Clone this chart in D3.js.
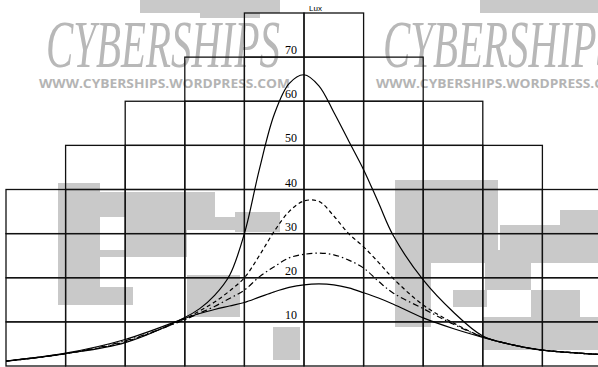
<!DOCTYPE html>
<html><head><meta charset="utf-8">
<script src="https://cdn.jsdelivr.net/npm/d3@7"></script>
<style>html,body{margin:0;padding:0;background:#fff;}svg{display:block;}</style>
</head><body>
<script>
// ---- data ----
const positions = [-5,-4,-3,-2,-1.75,-1.5,-1.25,-1,-0.75,-0.5,-0.25,0,0.25,0.5,0.75,1,1.25,1.5,2,2.5,3,3.5,4,5];
const seriesTall    = [1.1,2.8,5.3,11,13,16,20.5,30,44.5,57,64,66,63.5,57.5,51,44.5,37,29.5,19.5,12.3,6.8,4.8,3.6,2.6];
const seriesDashed  = [1.1,2.8,5.5,10.7,12.5,14.5,17,20,25,30.5,35,37.4,37.3,34,30,27,23.5,19.8,13.8,9.8,6.6,4.8,3.6,2.6];
const seriesDashDot = [1.1,2.8,5.7,10.5,12,13.5,15.3,17.2,20.2,22.5,24.5,25.3,25.6,25.2,24,22.2,19.2,16.5,13,9.5,6.6,4.8,3.6,2.6];
const seriesLow     = [1.1,2.9,6.0,10.8,11.9,12.8,13.6,14.4,15.6,16.8,17.8,18.4,18.6,18.4,17.7,16.6,15.4,14,10.9,8.5,6.5,4.8,3.6,2.6];
const luxTicks = [10,20,30,40,50,60,70];
const stepLevels = [10,20,30,40,50,60,70,80];      // top of each grid row
const stepHalfWidths = [5,5,5,5,4,3,2,1];           // cells each side of axis
const axisTitle = "Lux";
const wmTitle = "CYBERSHIPS";
const wmUrl = "WWW.CYBERSHIPS.WORDPRESS.COM";

const W = 598, H = 367;
const svg = d3.select("body").append("svg").attr("width", W).attr("height", H);
const x = d3.scaleLinear().domain([-5,5]).range([6,602]);
const y = d3.scaleLinear().domain([0,80]).range([366,13]);

// ---- watermark (background decoration) ----
const wm = svg.append("g").attr("fill","#c9c9c9");
const leftLogo = [[58,183,42,122],[100,192,115,25],[125,217,62,40],[100,250,87,7],[83,287,50,18],
  [187,217,56,13],[235,212,45,20],[187,275,53,42],[273,327,27,33],[140,0,140,13],[200,10,60,8]];
leftLogo.forEach(r=>wm.append("rect").attr("x",r[0]).attr("y",r[1]).attr("width",r[2]).attr("height",r[3]));
const rightLogo = [[395,180,36,147],[431,180,67,70],[431,250,167,13],[500,225,98,25],[485,263,46,27],
  [531,290,49,27],[483,317,115,33],[453,290,34,17],[480,0,118,13],[560,210,38,15]];
rightLogo.forEach(r=>wm.append("rect").attr("x",r[0]).attr("y",r[1]).attr("width",r[2]).attr("height",r[3]));
wm.append("rect").attr("x",438).attr("y",263).attr("width",45).attr("height",12).attr("fill","#fff");
[46,383].forEach(x0=>{
  svg.append("text").attr("x",x0).attr("y",67).text(wmTitle)
    .attr("font-family","Liberation Serif").attr("font-style","italic").attr("font-size",67)
    .attr("textLength",234).attr("lengthAdjust","spacingAndGlyphs").attr("fill","#b8b8b8");
  svg.append("text").attr("x",x0-7).attr("y",88).text(wmUrl)
    .attr("font-family","Open Sans").attr("font-weight","bold").attr("font-size",13)
    .attr("textLength",251).attr("lengthAdjust","spacingAndGlyphs").attr("fill","#b4b4b4");
});

// ---- stepped grid ----
const grid = svg.append("g").attr("fill","none").attr("stroke","#111").attr("stroke-width",1.3);
stepLevels.forEach((top,i)=>{
  const lo = i===0 ? 0 : stepLevels[i-1];
  const hw = stepHalfWidths[i];
  for(let c=-hw;c<hw;c++){
    grid.append("rect").attr("x",x(c)).attr("y",y(top))
      .attr("width",x(c+1)-x(c)).attr("height",y(lo)-y(top));
  }
});

// ---- axis labels ----
svg.append("g").selectAll("text").data(luxTicks).join("text")
  .attr("x",x(0)-7).attr("y",d=>y(d)-3).attr("text-anchor","end")
  .attr("font-family","Liberation Serif").attr("font-size",12).attr("fill","#000")
  .text(d=>d);
svg.append("text").attr("x",x(0)+5).attr("y",11).text(axisTitle)
  .attr("font-family","Liberation Sans").attr("font-size",8).attr("fill","#000");

// ---- curves ----
const line = d3.line().x(d=>x(d[0])).y(d=>y(d[1])).curve(d3.curveCatmullRom.alpha(0.5));
const series = [
  {v:seriesTall, dash:null},
  {v:seriesDashed, dash:"4,3"},
  {v:seriesDashDot, dash:"6,3,1.5,3"},
  {v:seriesLow, dash:null}
];
svg.append("g").selectAll("path").data(series).join("path")
  .attr("d",s=>line(positions.map((p,i)=>[p,s.v[i]])))
  .attr("fill","none").attr("stroke","#000").attr("stroke-width",1.2)
  .attr("stroke-dasharray",s=>s.dash);
</script>
</body></html>
